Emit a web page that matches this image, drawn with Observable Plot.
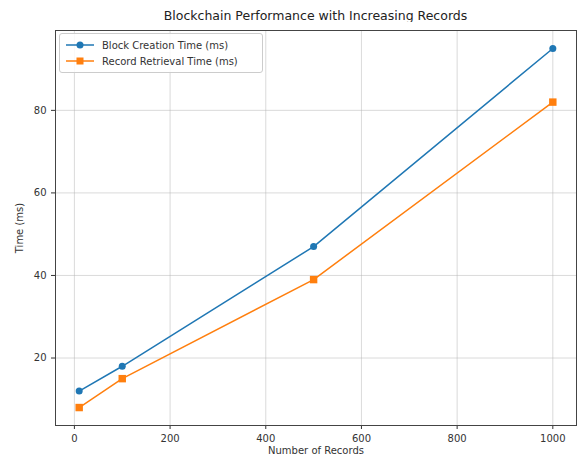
<!DOCTYPE html>
<html><head><meta charset="utf-8">
<script src="https://cdn.jsdelivr.net/npm/d3@7"></script>
<script src="https://cdn.jsdelivr.net/npm/@observablehq/plot@0.6"></script>
<style>
body{margin:0;background:#fff;font-family:"DejaVu Sans",sans-serif;}
#wrap{position:relative;width:579px;height:459px;}
#title{position:absolute;left:55px;width:521px;top:8px;text-align:center;font-size:12.5px;color:#222;}
#chart{position:absolute;left:0;top:22px;}
#legend{position:absolute;left:59px;top:33px;width:202px;height:38px;border:1px solid #ccc;border-radius:3px;background:rgba(255,255,255,0.85);font-size:10px;color:#333;}
.row{position:absolute;left:6px;height:14px;display:flex;align-items:center;}
.row svg{margin-right:8px;}
</style></head>
<body>
<div id="wrap">
<div id="title">Blockchain Performance with Increasing Records</div>
<div id="chart"></div>
<div id="legend"></div>
</div>
<script>
const records = [10, 100, 500, 1000];
const blockCreation = [12, 18, 47, 95];
const recordRetrieval = [8, 15, 39, 82];
const seriesNames = ["Block Creation Time (ms)", "Record Retrieval Time (ms)"];
const seriesColors = ["#1f77b4", "#ff7f0e"];
const xTicks = [0, 200, 400, 600, 800, 1000];
const yTicks = [20, 40, 60, 80];

const rows = [];
records.forEach((r, i) => {
  rows.push({x: r, y: blockCreation[i], s: seriesNames[0]});
  rows.push({x: r, y: recordRetrieval[i], s: seriesNames[1]});
});
const blue = rows.filter(d => d.s === seriesNames[0]);
const orange = rows.filter(d => d.s === seriesNames[1]);

const xr = [Math.min(...records), Math.max(...records)];
const xm = (xr[1] - xr[0]) * 0.05;
const allY = blockCreation.concat(recordRetrieval);
const yr = [Math.min(...allY), Math.max(...allY)];
const ym = (yr[1] - yr[0]) * 0.05;

const chart = Plot.plot({
  width: 579,
  height: 437,
  marginLeft: 55,
  marginRight: 3,
  marginTop: 8,
  marginBottom: 34,
  style: {fontFamily: "DejaVu Sans, sans-serif", fontSize: "10px", color: "#333", background: "#fff"},
  x: {domain: [xr[0] - xm, xr[1] + xm], ticks: xTicks, tickSize: 4, tickPadding: 3, label: null},
  y: {domain: [yr[0] - ym, yr[1] + ym], ticks: yTicks, tickSize: 4, tickPadding: 3, label: null},
  marks: [
    Plot.gridX(xTicks, {stroke: "#b0b0b0", strokeOpacity: 0.6, strokeWidth: 0.8}),
    Plot.gridY(yTicks, {stroke: "#b0b0b0", strokeOpacity: 0.6, strokeWidth: 0.8}),
    Plot.axisX({ticks: xTicks, tickSize: 4, fontSize: 10, tickFormat: d => String(d), label: "Number of Records", labelAnchor: "center", labelArrow: "none", labelOffset: 28}),
    Plot.axisY({ticks: yTicks, tickSize: 4, fontSize: 10, tickFormat: d => String(d), label: "Time (ms)", labelAnchor: "center", labelArrow: "none", labelOffset: 40}),
    Plot.line(blue, {x: "x", y: "y", stroke: seriesColors[0], strokeWidth: 1.5}),
    Plot.line(orange, {x: "x", y: "y", stroke: seriesColors[1], strokeWidth: 1.5}),
    Plot.dot(blue, {x: "x", y: "y", fill: seriesColors[0], r: 3.5, symbol: "circle"}),
    Plot.dot(orange, {x: "x", y: "y", fill: seriesColors[1], r: 4.2, symbol: "square"}),
    Plot.frame({stroke: "#444", strokeWidth: 1})
  ]
});
document.getElementById("chart").appendChild(chart);

const leg = document.getElementById("legend");
seriesNames.forEach((n, i) => {
  const row = document.createElement("div");
  row.className = "row";
  row.style.top = (4 + i * 16) + "px";
  const marker = i === 0
    ? `<circle cx="14" cy="7" r="3.5" fill="${seriesColors[i]}"/>`
    : `<rect x="10.5" y="3.5" width="7" height="7" fill="${seriesColors[i]}"/>`;
  row.innerHTML = `<svg width="28" height="14"><line x1="0" x2="28" y1="7" y2="7" stroke="${seriesColors[i]}" stroke-width="1.5"/>${marker}</svg><span>${n}</span>`;
  leg.appendChild(row);
});
</script>
</body></html>
